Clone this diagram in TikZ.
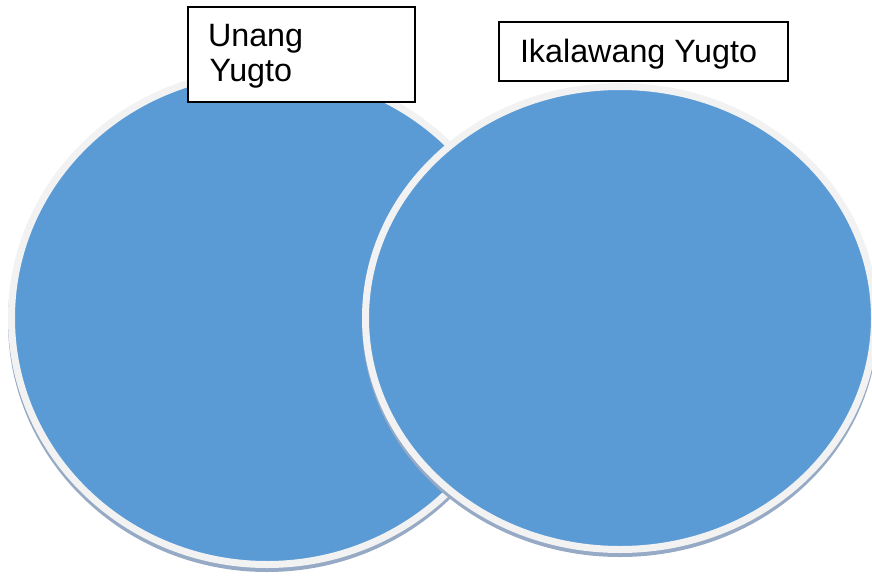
\documentclass[tikz,border=0pt]{standalone}
\usepackage{fontspec}
\setmainfont{Liberation Sans}
\usetikzlibrary{shapes.geometric}
\definecolor{vennblue}{HTML}{5B9BD5}
\definecolor{vennrim}{HTML}{F2F2F2}
\definecolor{vennshadow}{RGB}{150,170,198}
\begin{document}
\begin{tikzpicture}[x=1pt,y=-1pt,
  vennset/.style={ellipse, inner sep=0pt, outer sep=0pt, fill=vennblue, draw=vennrim, line width=7pt},
  vennshade/.style={ellipse, inner sep=0pt, outer sep=0pt, fill=vennshadow},
  labelbox/.style={draw=black, line width=2pt, fill=white, inner sep=0pt, outer sep=0pt, anchor=north west},
  labeltext/.style={inner sep=0pt, outer sep=0pt, anchor=base west, font=\fontsize{32.3}{37}\selectfont}]
\useasboundingbox (0,0) rectangle (872,577);
\clip (0,0) rectangle (872,577);
% left set
\node[vennshade, minimum width=518pt, minimum height=500pt] (leftshade) at (267,322) {};
\node[vennset, minimum width=511pt, minimum height=493pt] (leftset) at (267,318) {};
% right set
\node[vennshade, minimum width=516pt, minimum height=470pt] (rightshade) at (620,322) {};
\node[vennset, minimum width=509pt, minimum height=463pt] (rightset) at (620,318) {};
% labels
\node[labelbox, minimum width=227pt, minimum height=95pt] (leftbox) at (188,7) {};
\node[labeltext] (lefttextA) at (208,47) {Unang};
\node[labeltext] (lefttextB) at (209.5,82) {Yugto};
\node[labelbox, minimum width=289pt, minimum height=59pt] (rightbox) at (499,22) {};
\node[labeltext] (righttext) at (520,62.7) {Ikalawang Yugto};
\end{tikzpicture}
\end{document}
